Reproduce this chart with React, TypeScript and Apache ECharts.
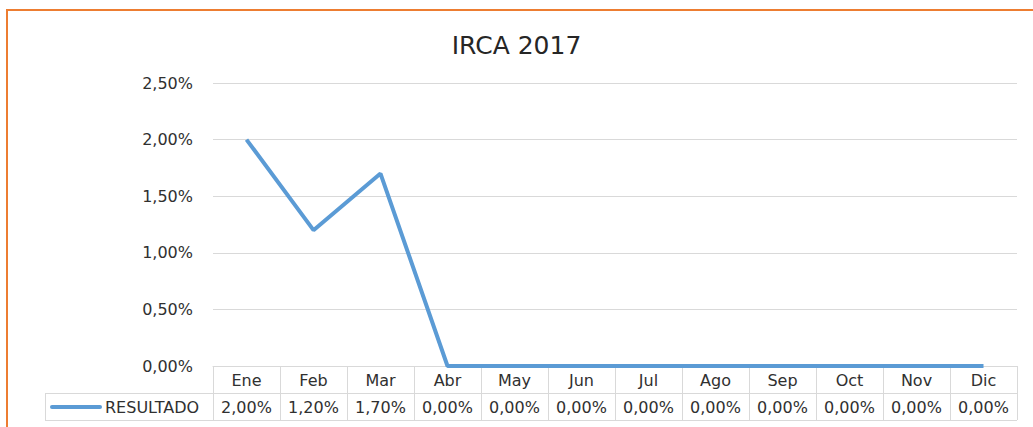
import React, { useEffect, useRef } from "react";
import * as echarts from "echarts";

const months = ["Ene", "Feb", "Mar", "Abr", "May", "Jun", "Jul", "Ago", "Sep", "Oct", "Nov", "Dic"];
const resultado = [2.0, 1.2, 1.7, 0, 0, 0, 0, 0, 0, 0, 0, 0];
const seriesName = "RESULTADO";
const yTicks = { min: 0, max: 2.5, interval: 0.5 };

const fmt = (v: number) => v.toFixed(2).replace(".", ",") + "%";
const FONT = "'DejaVu Sans', 'Noto Sans', sans-serif";
const GRID = "#d9d9d9";
const LINE = "#5b9bd5";
const TXT = "#303030";

export default function App() {
  const ref = useRef<HTMLDivElement>(null);
  useEffect(() => {
    if (!ref.current) return;
    const chart = echarts.init(ref.current, null, { renderer: "svg" });
    chart.setOption({
      animation: false,
      backgroundColor: "#fff",
      title: {
        text: "IRCA 2017",
        left: "center",
        top: 28,
        textStyle: { fontFamily: FONT, fontSize: 25, fontWeight: "normal", color: "#262626" },
      },
      grid: { left: 213, right: 16, top: 83, bottom: 61, containLabel: false },
      xAxis: [
        {
          type: "category",
          data: months,
          position: "bottom",
          axisLine: { show: true, lineStyle: { color: GRID, width: 1 } },
          axisTick: { show: true, length: 54, lineStyle: { color: GRID, width: 1 } },
          axisLabel: { fontFamily: FONT, fontSize: 16, color: TXT, margin: 6 },
        },
        {
          type: "category",
          data: months,
          position: "bottom",
          offset: 27,
          axisLine: { show: false },
          axisTick: { show: false },
          axisLabel: {
            fontFamily: FONT,
            fontSize: 16,
            color: TXT,
            margin: 6,
            formatter: (_: string, i: number) => fmt(resultado[i]),
          },
        },
      ],
      yAxis: {
        type: "value",
        min: yTicks.min,
        max: yTicks.max,
        interval: yTicks.interval,
        axisLine: { show: false },
        axisTick: { show: false },
        splitLine: { lineStyle: { color: GRID, width: 1 } },
        axisLabel: { fontFamily: FONT, fontSize: 16, color: TXT, margin: 20, formatter: (v: number) => fmt(v) },
      },
      series: [
        {
          name: seriesName,
          type: "line",
          data: resultado,
          xAxisIndex: 0,
          symbol: "none",
          lineStyle: { color: LINE, width: 4 },
        },
      ],
      graphic: [
        { type: "line", shape: { x1: 45, y1: 393.5, x2: 1017, y2: 393.5 }, style: { stroke: GRID, lineWidth: 1 } },
        { type: "line", shape: { x1: 45, y1: 420.5, x2: 1017, y2: 420.5 }, style: { stroke: GRID, lineWidth: 1 } },
        { type: "line", shape: { x1: 45.5, y1: 393, x2: 45.5, y2: 421 }, style: { stroke: GRID, lineWidth: 1 } },
        { type: "line", shape: { x1: 52, y1: 407, x2: 100, y2: 407 }, style: { stroke: LINE, lineWidth: 4, lineCap: "round" } },
        {
          type: "text",
          x: 105,
          y: 407,
          style: { text: seriesName, fontFamily: FONT, fontSize: 16, fill: TXT, verticalAlign: "middle" },
        },
        {
          type: "rect",
          shape: { x: 7, y: 10, width: 1100, height: 500 },
          style: { fill: "none", stroke: "#ed7d31", lineWidth: 2 },
          silent: true,
        },
      ],
    });
    return () => chart.dispose();
  }, []);
  return <div ref={ref} style={{ position: "fixed", left: 0, top: 0, width: 1033, height: 427 }} />;
}
